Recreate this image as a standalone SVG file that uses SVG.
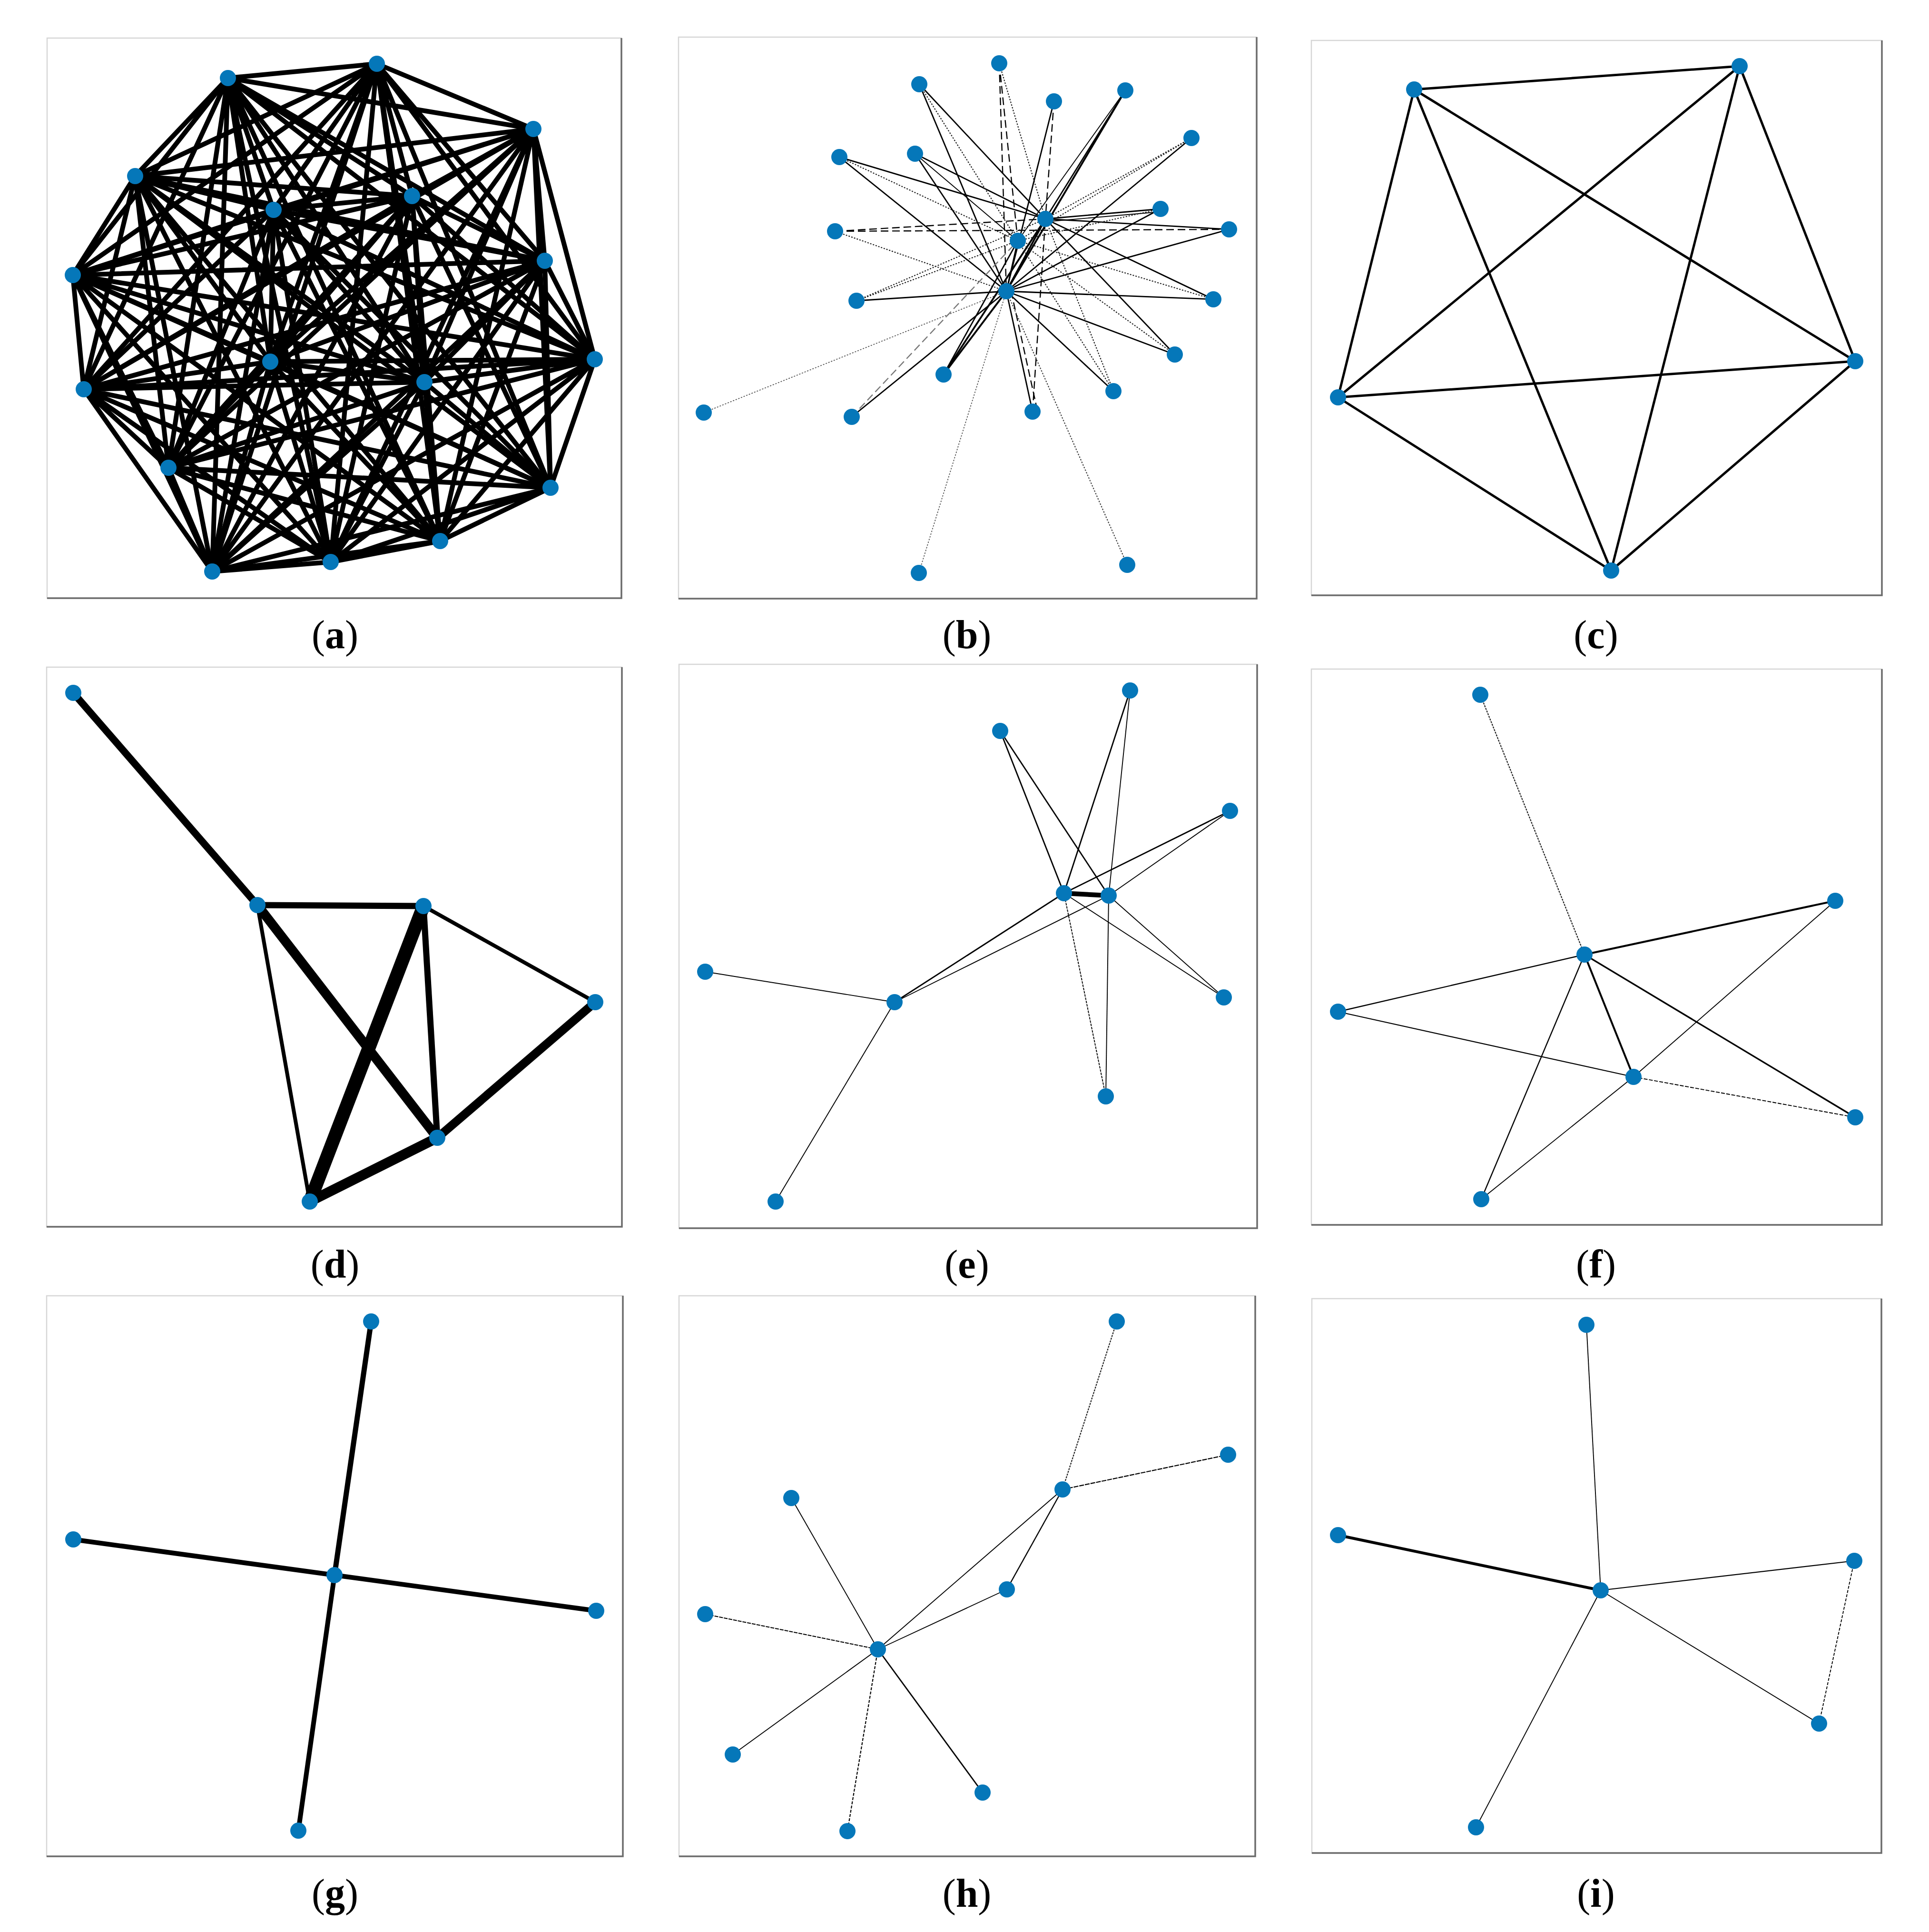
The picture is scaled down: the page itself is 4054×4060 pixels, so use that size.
<svg xmlns="http://www.w3.org/2000/svg" width="4054" height="4060" viewBox="0 0 4054 4060">
<style>
.bg{fill:#fff}
.frame{fill:#fff;stroke:#d6d6d6;stroke-width:2.5}
.shadow{fill:none;stroke:#6c6c6c;stroke-width:3.5}
.n{fill:#0577b9}
.e{stroke:#000;fill:none;stroke-linecap:butt}
.s{stroke-width:2.8}
.t{stroke-width:1.9}
.k{stroke-width:3.8}
.dt{stroke-width:2.2;stroke-dasharray:3 3;stroke:#222}
.ds{stroke-width:2.4;stroke-dasharray:16 8}
.lbl{font-family:"Liberation Serif","DejaVu Serif",serif;font-size:84px;text-anchor:middle;fill:#000}
</style>
<rect class="bg" x="0" y="0" width="4054" height="4060"/>

<g id="frames">
<rect class="frame" x="99" y="80" width="1207" height="1177"/><polyline class="shadow" points="1306,80 1306,1257 99,1257"/>
<rect class="frame" x="1426" y="78" width="1215" height="1180"/><polyline class="shadow" points="2641,78 2641,1258 1426,1258"/>
<rect class="frame" x="2756" y="85" width="1199" height="1166"/><polyline class="shadow" points="3955,85 3955,1251 2756,1251"/>
<rect class="frame" x="98" y="1402" width="1209" height="1176"/><polyline class="shadow" points="1307,1402 1307,2578 98,2578"/>
<rect class="frame" x="1427" y="1396" width="1215" height="1185"/><polyline class="shadow" points="2642,1396 2642,2581 1427,2581"/>
<rect class="frame" x="2756" y="1406" width="1199" height="1168"/><polyline class="shadow" points="3955,1406 3955,2574 2756,2574"/>
<rect class="frame" x="98" y="2723" width="1211" height="1178"/><polyline class="shadow" points="1309,2723 1309,3901 98,3901"/>
<rect class="frame" x="1427" y="2723" width="1211" height="1178"/><polyline class="shadow" points="2638,2723 2638,3901 1427,3901"/>
<rect class="frame" x="2757" y="2729" width="1197" height="1165"/><polyline class="shadow" points="3954,2729 3954,3894 2757,3894"/>
</g>

<g id="connectors-a" class="e" style="stroke-width:10">
<path d="M479 164L792 134M479 164L1121 271M479 164L284 370M479 164L575 441M479 164L866 412M479 164L1145 548M479 164L153 578M479 164L1250 755M479 164L176 818M479 164L568 760M479 164L892 803M479 164L354 983M479 164L1157 1025M479 164L925 1137M479 164L695 1181M479 164L446 1201"/>
<path d="M792 134L1121 271M792 134L284 370M792 134L575 441M792 134L866 412M792 134L1145 548M792 134L153 578M792 134L1250 755M792 134L176 818M792 134L568 760M792 134L892 803M792 134L354 983M792 134L1157 1025M792 134L925 1137M792 134L695 1181M792 134L446 1201"/>
<path d="M1121 271L284 370M1121 271L575 441M1121 271L866 412M1121 271L1145 548M1121 271L153 578M1121 271L1250 755M1121 271L176 818M1121 271L568 760M1121 271L892 803M1121 271L354 983M1121 271L1157 1025M1121 271L925 1137M1121 271L695 1181M1121 271L446 1201"/>
<path d="M284 370L575 441M284 370L866 412M284 370L1145 548M284 370L153 578M284 370L1250 755M284 370L176 818M284 370L568 760M284 370L892 803M284 370L354 983M284 370L1157 1025M284 370L925 1137M284 370L695 1181M284 370L446 1201"/>
<path d="M575 441L866 412M575 441L1145 548M575 441L153 578M575 441L1250 755M575 441L176 818M575 441L568 760M575 441L892 803M575 441L354 983M575 441L1157 1025M575 441L925 1137M575 441L695 1181M575 441L446 1201"/>
<path d="M866 412L1145 548M866 412L153 578M866 412L1250 755M866 412L176 818M866 412L568 760M866 412L892 803M866 412L354 983M866 412L1157 1025M866 412L925 1137M866 412L695 1181M866 412L446 1201"/>
<path d="M1145 548L153 578M1145 548L1250 755M1145 548L176 818M1145 548L568 760M1145 548L892 803M1145 548L354 983M1145 548L1157 1025M1145 548L925 1137M1145 548L695 1181M1145 548L446 1201"/>
<path d="M153 578L1250 755M153 578L176 818M153 578L568 760M153 578L892 803M153 578L354 983M153 578L1157 1025M153 578L925 1137M153 578L695 1181M153 578L446 1201"/>
<path d="M1250 755L176 818M1250 755L568 760M1250 755L892 803M1250 755L354 983M1250 755L1157 1025M1250 755L925 1137M1250 755L695 1181M1250 755L446 1201"/>
<path d="M176 818L568 760M176 818L892 803M176 818L354 983M176 818L1157 1025M176 818L925 1137M176 818L695 1181M176 818L446 1201"/>
<path d="M568 760L892 803M568 760L354 983M568 760L1157 1025M568 760L925 1137M568 760L695 1181M568 760L446 1201"/>
<path d="M892 803L354 983M892 803L1157 1025M892 803L925 1137M892 803L695 1181M892 803L446 1201"/>
<path d="M354 983L1157 1025M354 983L925 1137M354 983L695 1181M354 983L446 1201"/>
<path d="M1157 1025L925 1137M1157 1025L695 1181M1157 1025L446 1201"/>
<path d="M925 1137L695 1181M925 1137L446 1201"/>
<path d="M695 1181L446 1201"/>
</g>
<g id="a-n1"><circle class="n" cx="479" cy="164" r="17"/></g>
<g id="a-n2"><circle class="n" cx="792" cy="134" r="17"/></g>
<g id="a-n3"><circle class="n" cx="1121" cy="271" r="17"/></g>
<g id="a-n4"><circle class="n" cx="284" cy="370" r="17"/></g>
<g id="a-n5"><circle class="n" cx="575" cy="441" r="17"/></g>
<g id="a-n6"><circle class="n" cx="866" cy="412" r="17"/></g>
<g id="a-n7"><circle class="n" cx="1145" cy="548" r="17"/></g>
<g id="a-n8"><circle class="n" cx="153" cy="578" r="17"/></g>
<g id="a-n9"><circle class="n" cx="1250" cy="755" r="17"/></g>
<g id="a-n10"><circle class="n" cx="176" cy="818" r="17"/></g>
<g id="a-n11"><circle class="n" cx="568" cy="760" r="17"/></g>
<g id="a-n12"><circle class="n" cx="892" cy="803" r="17"/></g>
<g id="a-n13"><circle class="n" cx="354" cy="983" r="17"/></g>
<g id="a-n14"><circle class="n" cx="1157" cy="1025" r="17"/></g>
<g id="a-n15"><circle class="n" cx="925" cy="1137" r="17"/></g>
<g id="a-n16"><circle class="n" cx="695" cy="1181" r="17"/></g>
<g id="a-n17"><circle class="n" cx="446" cy="1201" r="17"/></g>

<g id="connectors-b" class="e">
<line class="s" x1="1932" y1="177" x2="2115" y2="612"/>
<line class="s" x1="2215" y1="213" x2="2115" y2="612"/>
<line class="k" x1="2365" y1="190" x2="2115" y2="612"/>
<line class="s" x1="2504" y1="290" x2="2115" y2="612"/>
<line class="s" x1="1764" y1="330" x2="2115" y2="612"/>
<line class="s" x1="1923" y1="323" x2="2115" y2="612"/>
<line class="s" x1="2439" y1="439" x2="2115" y2="612"/>
<line class="s" x1="2583" y1="482" x2="2115" y2="612"/>
<line class="s" x1="1800" y1="632" x2="2115" y2="612"/>
<line class="s" x1="2550" y1="629" x2="2115" y2="612"/>
<line class="s" x1="2469" y1="745" x2="2115" y2="612"/>
<line class="k" x1="1983" y1="787" x2="2115" y2="612"/>
<line class="s" x1="2340" y1="822" x2="2115" y2="612"/>
<line class="s" x1="2170" y1="865" x2="2115" y2="612"/>
<line class="ds" x1="2180" y1="862" x2="2125" y2="612"/>
<line class="s" x1="1790" y1="876" x2="2115" y2="612"/>
<line class="k" x1="2197" y1="460" x2="2115" y2="612"/>
<line class="s" x1="2139" y1="506" x2="2115" y2="612"/>
<line class="dt" x1="1755" y1="486" x2="2115" y2="612"/>
<line class="dt" style="stroke:#555;stroke-width:1.8" x1="1479" y1="867" x2="2115" y2="612"/>
<line class="dt" style="stroke:#555;stroke-width:1.8" x1="1931" y1="1204" x2="2115" y2="612"/>
<line class="dt" style="stroke:#444" x1="2369" y1="1187" x2="2115" y2="612"/>
<line class="ds" x1="2100" y1="133" x2="2115" y2="612"/>
<line class="dt" x1="2100" y1="133" x2="2197" y2="460"/>
<line class="s" x1="1932" y1="177" x2="2197" y2="460"/>
<line class="s" x1="1764" y1="330" x2="2197" y2="460"/>
<line class="s" x1="1923" y1="323" x2="2197" y2="460"/>
<line class="s" x1="2439" y1="439" x2="2197" y2="460"/>
<line class="t" x1="2439" y1="445" x2="2197" y2="466"/>
<line class="s" x1="2583" y1="482" x2="2197" y2="460"/>
<line class="s" x1="2550" y1="629" x2="2197" y2="460"/>
<line class="s" x1="2469" y1="745" x2="2197" y2="460"/>
<line class="k" x1="1983" y1="787" x2="2197" y2="460"/>
<line class="dt" x1="2340" y1="822" x2="2197" y2="460"/>
<line class="ds" x1="2170" y1="865" x2="2197" y2="460"/>
<line class="ds" x1="1755" y1="486" x2="2197" y2="460"/>
<line class="s" x1="2365" y1="190" x2="2197" y2="460"/>
<line class="ds" x1="2215" y1="213" x2="2197" y2="460"/>
<line class="dt" x1="2504" y1="290" x2="2197" y2="460"/>
<line class="dt" x1="1800" y1="632" x2="2197" y2="460"/>
<line class="ds" x1="2100" y1="133" x2="2139" y2="506"/>
<line class="dt" x1="1932" y1="177" x2="2139" y2="506"/>
<line class="dt" x1="2504" y1="290" x2="2139" y2="506"/>
<line class="dt" x1="1764" y1="330" x2="2139" y2="506"/>
<line class="t" x1="1923" y1="323" x2="2139" y2="506"/>
<line class="dt" x1="2439" y1="439" x2="2139" y2="506"/>
<line class="dt" x1="1800" y1="632" x2="2139" y2="506"/>
<line class="dt" x1="2550" y1="629" x2="2139" y2="506"/>
<line class="dt" x1="2469" y1="745" x2="2139" y2="506"/>
<line class="s" x1="1983" y1="787" x2="2139" y2="506"/>
<line class="dt" x1="2340" y1="822" x2="2139" y2="506"/>
<line class="ds" style="stroke:#777" x1="1790" y1="876" x2="2139" y2="506"/>
<line class="t" x1="2365" y1="190" x2="2139" y2="506"/>
<line class="ds" x1="1755" y1="486" x2="2583" y2="482"/>
</g>
<g id="b-n1"><circle class="n" cx="2100" cy="133" r="17"/></g>
<g id="b-n2"><circle class="n" cx="1932" cy="177" r="17"/></g>
<g id="b-n3"><circle class="n" cx="2215" cy="213" r="17"/></g>
<g id="b-n4"><circle class="n" cx="2365" cy="190" r="17"/></g>
<g id="b-n5"><circle class="n" cx="2504" cy="290" r="17"/></g>
<g id="b-n6"><circle class="n" cx="1764" cy="330" r="17"/></g>
<g id="b-n7"><circle class="n" cx="1923" cy="323" r="17"/></g>
<g id="b-n8"><circle class="n" cx="2197" cy="460" r="17"/></g>
<g id="b-n9"><circle class="n" cx="2439" cy="439" r="17"/></g>
<g id="b-n10"><circle class="n" cx="1755" cy="486" r="17"/></g>
<g id="b-n11"><circle class="n" cx="2583" cy="482" r="17"/></g>
<g id="b-n12"><circle class="n" cx="2139" cy="506" r="17"/></g>
<g id="b-n13"><circle class="n" cx="2115" cy="612" r="17"/></g>
<g id="b-n14"><circle class="n" cx="1800" cy="632" r="17"/></g>
<g id="b-n15"><circle class="n" cx="2550" cy="629" r="17"/></g>
<g id="b-n16"><circle class="n" cx="2469" cy="745" r="17"/></g>
<g id="b-n17"><circle class="n" cx="1983" cy="787" r="17"/></g>
<g id="b-n18"><circle class="n" cx="2340" cy="822" r="17"/></g>
<g id="b-n19"><circle class="n" cx="2170" cy="865" r="17"/></g>
<g id="b-n20"><circle class="n" cx="1479" cy="867" r="17"/></g>
<g id="b-n21"><circle class="n" cx="1790" cy="876" r="17"/></g>
<g id="b-n22"><circle class="n" cx="1931" cy="1204" r="17"/></g>
<g id="b-n23"><circle class="n" cx="2369" cy="1187" r="17"/></g>

<g id="connectors-c" class="e" style="stroke-width:5">
<line x1="2972" y1="188" x2="3656" y2="139"/>
<line x1="2972" y1="188" x2="2812" y2="835"/>
<line x1="2972" y1="188" x2="3899" y2="759"/>
<line x1="2972" y1="188" x2="3386" y2="1199"/>
<line x1="3656" y1="139" x2="2812" y2="835"/>
<line x1="3656" y1="139" x2="3899" y2="759"/>
<line x1="3656" y1="139" x2="3386" y2="1199"/>
<line x1="2812" y1="835" x2="3899" y2="759"/>
<line x1="2812" y1="835" x2="3386" y2="1199"/>
<line x1="3899" y1="759" x2="3386" y2="1199"/>
</g>
<g id="c-n1"><circle class="n" cx="2972" cy="188" r="17"/></g>
<g id="c-n2"><circle class="n" cx="3656" cy="139" r="17"/></g>
<g id="c-n3"><circle class="n" cx="2812" cy="835" r="17"/></g>
<g id="c-n4"><circle class="n" cx="3899" cy="759" r="17"/></g>
<g id="c-n5"><circle class="n" cx="3386" cy="1199" r="17"/></g>

<g id="connectors-d" class="e">
<line style="stroke-width:15" x1="154" y1="1456" x2="541" y2="1902"/>
<line style="stroke-width:13" x1="541" y1="1902" x2="890" y2="1904"/>
<line style="stroke-width:8" x1="541" y1="1902" x2="651" y2="2525"/>
<line style="stroke-width:20" x1="541" y1="1902" x2="919" y2="2391"/>
<line style="stroke-width:28" x1="890" y1="1904" x2="651" y2="2525"/>
<line style="stroke-width:13" x1="890" y1="1904" x2="919" y2="2391"/>
<line style="stroke-width:8" x1="890" y1="1904" x2="1251" y2="2106"/>
<line style="stroke-width:18" x1="1251" y1="2106" x2="919" y2="2391"/>
<line style="stroke-width:21" x1="919" y1="2391" x2="651" y2="2525"/>
</g>
<g id="d-n1"><circle class="n" cx="154" cy="1456" r="17"/></g>
<g id="d-n2"><circle class="n" cx="541" cy="1902" r="17"/></g>
<g id="d-n3"><circle class="n" cx="890" cy="1904" r="17"/></g>
<g id="d-n4"><circle class="n" cx="1251" cy="2106" r="17"/></g>
<g id="d-n5"><circle class="n" cx="919" cy="2391" r="17"/></g>
<g id="d-n6"><circle class="n" cx="651" cy="2525" r="17"/></g>

<g id="connectors-e" class="e">
<line style="stroke-width:10" x1="2236" y1="1877" x2="2330" y2="1882"/>
<line class="s" x1="2102" y1="1536" x2="2236" y2="1877"/>
<line class="s" x1="2102" y1="1536" x2="2330" y2="1882"/>
<line class="s" x1="2375" y1="1451" x2="2236" y2="1877"/>
<line class="t" x1="2375" y1="1451" x2="2330" y2="1882"/>
<line class="t" x1="2330" y1="1882" x2="2324" y2="2304"/>
<line class="t" style="stroke-dasharray:5 2" x1="2236" y1="1877" x2="2324" y2="2304"/>
<line class="s" x1="2585" y1="1704" x2="2236" y2="1877"/>
<line class="t" x1="2585" y1="1704" x2="2330" y2="1882"/>
<line class="s" x1="1880" y1="2106" x2="2236" y2="1877"/>
<line class="t" x1="1880" y1="2106" x2="2330" y2="1882"/>
<line class="t" x1="2236" y1="1877" x2="2572" y2="2096"/>
<line class="t" x1="2330" y1="1882" x2="2572" y2="2096"/>
<line class="t" x1="1482" y1="2042" x2="1880" y2="2106"/>
<line class="t" x1="1880" y1="2106" x2="1630" y2="2525"/>
</g>
<g id="e-n1"><circle class="n" cx="2375" cy="1451" r="17"/></g>
<g id="e-n2"><circle class="n" cx="2102" cy="1536" r="17"/></g>
<g id="e-n3"><circle class="n" cx="2585" cy="1704" r="17"/></g>
<g id="e-n4"><circle class="n" cx="2236" cy="1877" r="17"/></g>
<g id="e-n5"><circle class="n" cx="2330" cy="1882" r="17"/></g>
<g id="e-n6"><circle class="n" cx="1482" cy="2042" r="17"/></g>
<g id="e-n7"><circle class="n" cx="1880" cy="2106" r="17"/></g>
<g id="e-n8"><circle class="n" cx="2572" cy="2096" r="17"/></g>
<g id="e-n9"><circle class="n" cx="2324" cy="2304" r="17"/></g>
<g id="e-n10"><circle class="n" cx="1630" cy="2525" r="17"/></g>

<g id="connectors-f" class="e">
<line class="dt" style="stroke-dasharray:4 2" x1="3111" y1="1460" x2="3330" y2="2006"/>
<line style="stroke-width:4" x1="3330" y1="2006" x2="3857" y2="1893"/>
<line style="stroke-width:2.4" x1="3330" y1="2006" x2="2812" y2="2126"/>
<line style="stroke-width:4" x1="3330" y1="2006" x2="3433" y2="2263"/>
<line style="stroke-width:3.3" x1="3330" y1="2006" x2="3899" y2="2348"/>
<line style="stroke-width:2.4" x1="3330" y1="2006" x2="3113" y2="2520"/>
<line style="stroke-width:2.2" x1="2812" y1="2126" x2="3433" y2="2263"/>
<line class="t" style="stroke-dasharray:8 3" x1="3433" y1="2263" x2="3899" y2="2348"/>
<line class="t" x1="3433" y1="2263" x2="3857" y2="1893"/>
<line class="t" x1="3433" y1="2263" x2="3113" y2="2520"/>
</g>
<g id="f-n1"><circle class="n" cx="3111" cy="1460" r="17"/></g>
<g id="f-n2"><circle class="n" cx="3857" cy="1893" r="17"/></g>
<g id="f-n3"><circle class="n" cx="3330" cy="2006" r="17"/></g>
<g id="f-n4"><circle class="n" cx="2812" cy="2126" r="17"/></g>
<g id="f-n5"><circle class="n" cx="3433" cy="2263" r="17"/></g>
<g id="f-n6"><circle class="n" cx="3899" cy="2348" r="17"/></g>
<g id="f-n7"><circle class="n" cx="3113" cy="2520" r="17"/></g>

<g id="connectors-g" class="e">
<line style="stroke-width:11" x1="780" y1="2777" x2="703" y2="3310"/>
<line style="stroke-width:10" x1="703" y1="3310" x2="627" y2="3847"/>
<line style="stroke-width:10" x1="154" y1="3235" x2="703" y2="3310"/>
<line style="stroke-width:10" x1="703" y1="3310" x2="1253" y2="3385"/>
</g>
<g id="g-n1"><circle class="n" cx="780" cy="2777" r="17"/></g>
<g id="g-n2"><circle class="n" cx="154" cy="3235" r="17"/></g>
<g id="g-n3"><circle class="n" cx="703" cy="3310" r="17"/></g>
<g id="g-n4"><circle class="n" cx="1253" cy="3385" r="17"/></g>
<g id="g-n5"><circle class="n" cx="627" cy="3847" r="17"/></g>

<g id="connectors-h" class="e">
<line class="dt" style="stroke-dasharray:4 2" x1="2347" y1="2777" x2="2233" y2="3130"/>
<line style="stroke-width:2.2;stroke-dasharray:10 2" x1="2233" y1="3130" x2="2581" y2="3057"/>
<line class="t" x1="2233" y1="3130" x2="1845" y2="3466"/>
<line style="stroke-width:2.4" x1="2233" y1="3130" x2="2116" y2="3340"/>
<line class="t" x1="2116" y1="3340" x2="1845" y2="3466"/>
<line class="t" x1="1663" y1="3148" x2="1845" y2="3466"/>
<line style="stroke-width:2.1;stroke-dasharray:8 2" x1="1482" y1="3392" x2="1845" y2="3466"/>
<line class="t" x1="1845" y1="3466" x2="1540" y2="3687"/>
<line style="stroke-width:2.2;stroke-dasharray:6 3" x1="1845" y1="3466" x2="1781" y2="3848"/>
<line class="s" x1="1845" y1="3466" x2="2065" y2="3767"/>
</g>
<g id="h-n1"><circle class="n" cx="2347" cy="2777" r="17"/></g>
<g id="h-n2"><circle class="n" cx="2581" cy="3057" r="17"/></g>
<g id="h-n3"><circle class="n" cx="2233" cy="3130" r="17"/></g>
<g id="h-n4"><circle class="n" cx="1663" cy="3148" r="17"/></g>
<g id="h-n5"><circle class="n" cx="2116" cy="3340" r="17"/></g>
<g id="h-n6"><circle class="n" cx="1482" cy="3392" r="17"/></g>
<g id="h-n7"><circle class="n" cx="1845" cy="3466" r="17"/></g>
<g id="h-n8"><circle class="n" cx="1540" cy="3687" r="17"/></g>
<g id="h-n9"><circle class="n" cx="2065" cy="3767" r="17"/></g>
<g id="h-n10"><circle class="n" cx="1781" cy="3848" r="17"/></g>

<g id="connectors-i" class="e">
<line style="stroke-width:6" x1="2812" y1="3226" x2="3364" y2="3342"/>
<line class="t" x1="3334" y1="2784" x2="3364" y2="3342"/>
<line style="stroke-width:2.2" x1="3364" y1="3342" x2="3897" y2="3280"/>
<line class="t" x1="3364" y1="3342" x2="3823" y2="3622"/>
<line class="t" x1="3364" y1="3342" x2="3102" y2="3840"/>
<line class="t" style="stroke-dasharray:6 3" x1="3897" y1="3280" x2="3823" y2="3622"/>
</g>
<g id="i-n1"><circle class="n" cx="3334" cy="2784" r="17"/></g>
<g id="i-n2"><circle class="n" cx="2812" cy="3226" r="17"/></g>
<g id="i-n3"><circle class="n" cx="3364" cy="3342" r="17"/></g>
<g id="i-n4"><circle class="n" cx="3897" cy="3280" r="17"/></g>
<g id="i-n5"><circle class="n" cx="3823" cy="3622" r="17"/></g>
<g id="i-n6"><circle class="n" cx="3102" cy="3840" r="17"/></g>

<g id="labels">
<text class="lbl" x="704" y="1362">(<tspan font-weight="bold">a</tspan>)</text>
<text class="lbl" x="2032" y="1362">(<tspan font-weight="bold">b</tspan>)</text>
<text class="lbl" x="3354" y="1362">(<tspan font-weight="bold">c</tspan>)</text>
<text class="lbl" x="704" y="2685">(<tspan font-weight="bold">d</tspan>)</text>
<text class="lbl" x="2032" y="2685">(<tspan font-weight="bold">e</tspan>)</text>
<text class="lbl" x="3354" y="2685">(<tspan font-weight="bold">f</tspan>)</text>
<text class="lbl" x="704" y="4007">(<tspan font-weight="bold">g</tspan>)</text>
<text class="lbl" x="2032" y="4007">(<tspan font-weight="bold">h</tspan>)</text>
<text class="lbl" x="3354" y="4007">(<tspan font-weight="bold">i</tspan>)</text>
</g>
</svg>
